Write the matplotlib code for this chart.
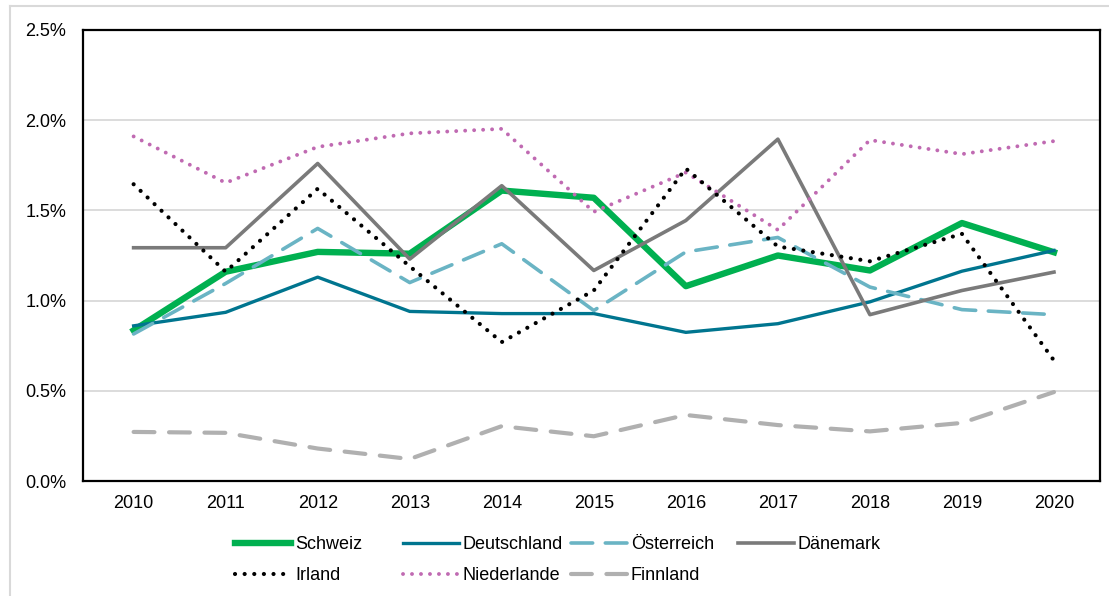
import numpy as np
import matplotlib
matplotlib.use("Agg")
import matplotlib.pyplot as plt
from matplotlib.ticker import PercentFormatter
from matplotlib.lines import Line2D

plt.rcParams['font.family'] = ['Liberation Sans', 'DejaVu Sans']

# Data (in percent)
years = ['2010', '2011', '2012', '2013', '2014', '2015', '2016', '2017', '2018', '2019', '2020']
schweiz = [0.835, 1.16, 1.27, 1.26, 1.61, 1.57, 1.08, 1.25, 1.167, 1.43, 1.268]
deutschland = [0.86, 0.935, 1.13, 0.94, 0.928, 0.928, 0.824, 0.872, 0.993, 1.163, 1.278]
oesterreich = [0.815, 1.095, 1.40, 1.10, 1.315, 0.945, 1.27, 1.35, 1.075, 0.95, 0.922]
daenemark = [1.293, 1.293, 1.76, 1.23, 1.637, 1.167, 1.444, 1.895, 0.922, 1.056, 1.158]
irland = [1.645, 1.16, 1.62, 1.19, 0.77, 1.056, 1.732, 1.30, 1.218, 1.37, 0.668]
niederlande = [1.91, 1.653, 1.852, 1.927, 1.952, 1.492, 1.71, 1.392, 1.89, 1.812, 1.884]
finnland = [0.272, 0.267, 0.18, 0.122, 0.304, 0.248, 0.366, 0.31, 0.275, 0.322, 0.493]

fig = plt.figure(figsize=(11.09, 5.96), dpi=100)
ax = fig.add_axes([83 / 1109, 1 - 481 / 596, (1100 - 83) / 1109, (481 - 30) / 596])

x = np.arange(len(years))

# light grey frame of the chart area (top and left visible)
fig.add_artist(Line2D([10 / 1109, 10 / 1109], [0, 1 - 6 / 596], transform=fig.transFigure,
                      color='#d9d9d9', lw=1.5))
fig.add_artist(Line2D([10 / 1109, 1], [1 - 6 / 596, 1 - 6 / 596], transform=fig.transFigure,
                      color='#d9d9d9', lw=1.5))

ax.plot(x, deutschland, color='#00758f', lw=2.4, label='Deutschland', zorder=3)
ax.plot(x, oesterreich, color='#6ab4c4', lw=2.6, linestyle=(0, (6, 3.5)),
        dash_capstyle='round', label='Österreich', zorder=3)
ax.plot(x, daenemark, color='#7a7a7a', lw=2.6, label='Dänemark', zorder=3)
ax.plot(x, irland, color='black', lw=3.0, linestyle=(0, (0.01, 2.3)),
        dash_capstyle='round', label='Irland', zorder=4)
ax.plot(x, niederlande, color='#c06ab2', lw=2.8, linestyle=(0, (0.01, 2.3)),
        dash_capstyle='round', label='Niederlande', zorder=3)
ax.plot(x, finnland, color='#b0b0b0', lw=3.0, linestyle=(0, (5, 3.5)),
        dash_capstyle='round', label='Finnland', zorder=3)
ax.plot(x, schweiz, color='#00b050', lw=4.6, label='Schweiz', zorder=2)

ax.set_xlim(-0.55, 10.5)
ax.set_ylim(0, 2.5)
ax.set_yticks([0, 0.5, 1.0, 1.5, 2.0, 2.5])
ax.yaxis.set_major_formatter(PercentFormatter(decimals=1))
ax.set_xticks(x)
ax.set_xticklabels(years)
ax.tick_params(length=0, labelsize=13, pad=10)
ax.tick_params(axis='y', pad=12)
ax.grid(axis='y', color='#d9d9d9', lw=1.3, zorder=0)
ax.set_axisbelow(True)
for s in ax.spines.values():
    s.set_linewidth(1.6)
    s.set_color('black')

# legend: four fixed-width columns like the original
handles = {l.get_label(): l for l in ax.get_lines()}
columns = [['Schweiz', 'Irland'], ['Deutschland', 'Niederlande'],
           ['Österreich', 'Finnland'], ['Dänemark']]
col_x = [235, 403, 571, 738]
for cx, names in zip(col_x, columns):
    fig.legend([handles[n] for n in names], names, loc='upper left',
               bbox_to_anchor=(cx / 1109, 1 - 536 / 596), frameon=False,
               fontsize=13, handlelength=3.1, handletextpad=0.22,
               labelspacing=0.78, borderaxespad=0, borderpad=0)

fig.savefig('out.png', dpi=100)
